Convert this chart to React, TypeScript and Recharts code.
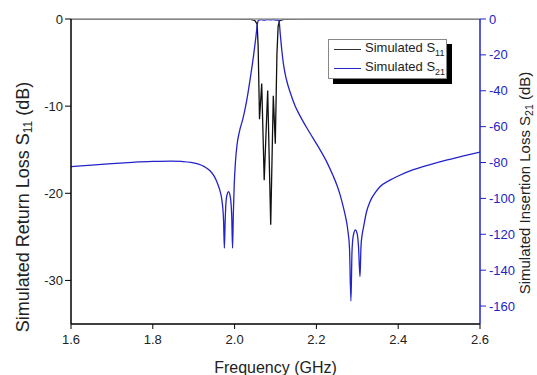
import React from 'react';
import { ComposedChart, Line, XAxis, YAxis, ReferenceLine } from 'recharts';

// frequency ticks (GHz)
const freqTicks = [1.6, 1.8, 2.0, 2.2, 2.4, 2.6];
const s11Ticks = [0, -10, -20, -30];
const s21Ticks = [0, -20, -40, -60, -80, -100, -120, -140, -160];

// simulated S21 (dB)
const s21Freq = [
  1.6, 1.65, 1.7, 1.75, 1.8, 1.845, 1.87, 1.893, 1.91, 1.926, 1.94, 1.95, 1.958, 1.964, 1.968,
  1.971, 1.973, 1.975, 1.977, 1.979, 1.982, 1.985, 1.988, 1.991, 1.993, 1.995, 1.997, 1.999,
  2.002, 2.006, 2.0115, 2.021, 2.03, 2.039, 2.046, 2.051, 2.054, 2.056, 2.058, 2.065, 2.072,
  2.08, 2.088, 2.095, 2.102, 2.107, 2.1093, 2.1115, 2.1152, 2.12, 2.127, 2.136, 2.148, 2.16,
  2.176, 2.192, 2.208, 2.225, 2.24, 2.25, 2.258, 2.266, 2.272, 2.277, 2.281, 2.2844, 2.287,
  2.29, 2.2953, 2.3, 2.303, 2.3066, 2.309, 2.312, 2.3147, 2.322, 2.331, 2.343, 2.3555, 2.38,
  2.4, 2.437, 2.48, 2.52, 2.56, 2.6,
];
const s21Loss = [
  -82.3, -81.4, -80.6, -79.9, -79.4, -79.2, -79.4, -79.9, -80.8, -82.3, -84.6, -87.6, -91.5,
  -95.5, -99.5, -105, -112, -127.7, -112, -102, -97.5, -96.2, -97.5, -102, -110, -127.7, -108,
  -93, -80, -70, -63, -55, -45, -32, -21, -12, -6, -2.5, -0.8, -0.4, -0.6, -0.3, -0.5, -0.3,
  -0.6, -0.5, -2, -8, -17, -26, -34, -41, -48.5, -54, -60.5, -66.5, -72.5, -79.5, -87, -92.5,
  -98, -105, -111, -118, -128, -157.2, -130, -121, -117.6, -120, -127, -143.6, -127, -120,
  -116.7, -108, -101.8, -97, -93.5, -89.8, -87.5, -84, -81, -78.5, -76.3, -74.2,
];

// simulated S11 (dB)
const s11Freq = [
  1.6, 2.0, 2.04, 2.05, 2.055, 2.0575, 2.0609, 2.0663, 2.0724, 2.0809, 2.0883, 2.0946, 2.0995,
  2.1035, 2.1065, 2.11, 2.12, 2.16, 2.6,
];
const s11Loss = [
  0, 0, -0.05, -0.2, -0.6, -3, -11.5, -7.4, -18.5, -8.2, -23.6, -8.8, -14.3, -4, -0.8, -0.2,
  -0.05, 0, 0,
];

const s21Data = s21Freq.map((f, i) => ({ f, s21: s21Loss[i] }));
const s11Data = s11Freq.map((f, i) => ({ f, s11: s11Loss[i] }));

const BLUE = '#2323c8';
const FONT = 'Liberation Sans, Arial, sans-serif';

function LeftLabel() {
  return (
    <text
      x={24}
      y={207}
      transform="rotate(-90 24 207)"
      textAnchor="middle"
      dominantBaseline="middle"
      fontSize={18}
      fill="#222"
      fontFamily={FONT}
    >
      Simulated Return Loss S
      <tspan fontSize={12} dy={5}>11</tspan>
      <tspan dy={-5}> (dB)</tspan>
    </text>
  );
}

function RightLabel() {
  return (
    <text
      x={526}
      y={183}
      transform="rotate(-90 526 183)"
      textAnchor="middle"
      dominantBaseline="middle"
      fontSize={15}
      fill="#222"
      fontFamily={FONT}
    >
      Simulated Insertion Loss S
      <tspan fontSize={10.5} dy={4}>21</tspan>
      <tspan dy={-4}> (dB)</tspan>
    </text>
  );
}

function LegendBox() {
  const row = (color: string, sub: string) => (
    <div style={{ display: 'flex', alignItems: 'center', height: 19 }}>
      <div style={{ width: 27, height: 0, borderTop: `1.5px solid ${color}`, marginRight: 4 }} />
      <span>
        Simulated S<sub style={{ fontSize: 9 }}>{sub}</sub>
      </span>
    </div>
  );
  return (
    <div
      style={{
        position: 'absolute',
        left: 328,
        top: 39,
        width: 112,
        height: 38,
        paddingLeft: 5,
        background: '#fff',
        border: '1px solid #888',
        boxShadow: '5px 5px 0 #000',
        fontFamily: FONT,
        fontSize: 13,
        color: '#222',
        lineHeight: 1,
      }}
    >
      {row('#333', '11')}
      {row(BLUE, '21')}
    </div>
  );
}

export default function App() {
  return (
    <div style={{ position: 'absolute', left: 0, top: 0, width: 537, height: 375, background: '#fff' }}>
      <ComposedChart width={537} height={375} margin={{ top: 19, right: 0, bottom: 0, left: 0 }}>
        <XAxis
          dataKey="f"
          type="number"
          domain={[1.6, 2.6]}
          ticks={freqTicks}
          tickFormatter={(v: number) => v.toFixed(1)}
          allowDataOverflow
          height={51}
          tickSize={5}
          tickMargin={6}
          axisLine={{ stroke: '#000', strokeWidth: 1.5 }}
          tickLine={{ stroke: '#000' }}
          tick={{ fontSize: 13, fill: '#222', fontFamily: FONT }}
          label={{
            value: 'Frequency (GHz)',
            position: 'insideBottom',
            offset: 2,
            fontSize: 16,
            fill: '#222',
            fontFamily: FONT,
          }}
        />
        <YAxis
          yAxisId="left"
          domain={[-35, 0]}
          ticks={s11Ticks}
          allowDataOverflow
          width={71}
          tickSize={6}
          tickMargin={2}
          axisLine={{ stroke: '#000', strokeWidth: 1.5 }}
          tickLine={{ stroke: '#000' }}
          tick={{ fontSize: 13, fill: '#222', fontFamily: FONT }}
          label={<LeftLabel />}
        />
        <YAxis
          yAxisId="right"
          orientation="right"
          domain={[-170, 0]}
          ticks={s21Ticks}
          allowDataOverflow
          width={57}
          tickSize={6}
          tickMargin={3}
          axisLine={{ stroke: BLUE, strokeWidth: 1.5 }}
          tickLine={{ stroke: BLUE }}
          tick={{ fontSize: 13, fill: BLUE, fontFamily: FONT, textAnchor: 'start' }}
          label={<RightLabel />}
        />
        <Line
          data={s11Data}
          yAxisId="left"
          dataKey="s11"
          type="linear"
          stroke="#111"
          strokeWidth={1.3}
          dot={false}
          isAnimationActive={false}
        />
        <Line
          data={s21Data}
          yAxisId="right"
          dataKey="s21"
          type="monotone"
          stroke={BLUE}
          strokeWidth={1.3}
          dot={false}
          isAnimationActive={false}
        />
        <ReferenceLine yAxisId="left" y={0} stroke="#999" strokeWidth={1.5} />
      </ComposedChart>
      <LegendBox />
    </div>
  );
}
